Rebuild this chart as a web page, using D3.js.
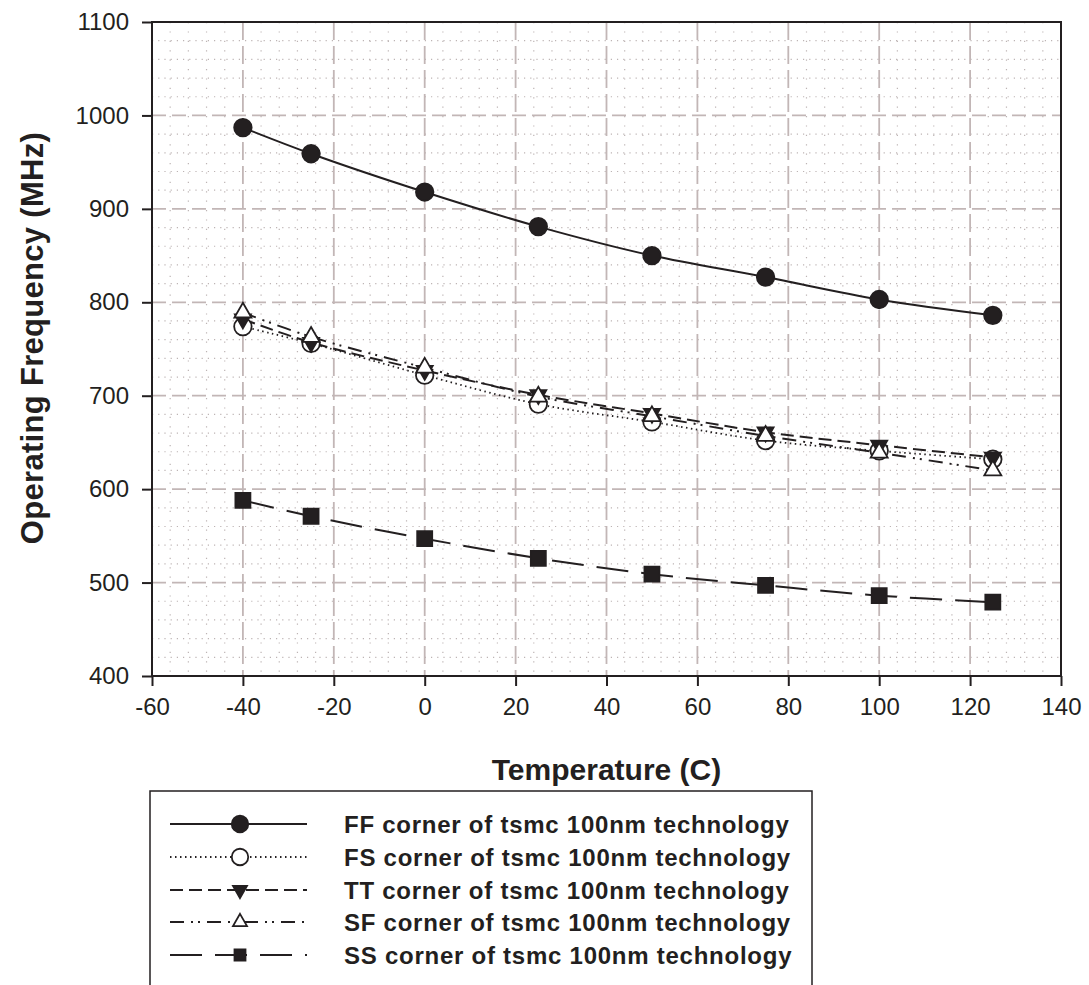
<!DOCTYPE html>
<html>
<head>
<meta charset="utf-8">
<script src="https://cdn.jsdelivr.net/npm/d3@7"></script>
<style>
  body { margin: 0; background: #fff; }
  text { font-family: "Liberation Sans", Arial, sans-serif; fill: #231f20; }
</style>
</head>
<body>
<div id="chart"></div>
<script>
// temperatures (C)
var temps = [-40, -25, 0, 25, 50, 75, 100, 125];
// operating frequency (MHz) per corner
var ffVals = [987, 959, 918, 881, 850, 827, 803, 786];
var fsVals = [774, 756, 722, 691, 672, 652, 641, 632];
var ttVals = [782, 757, 727, 701, 681, 661, 647, 634];
var sfVals = [789, 763, 730, 699, 678, 657, 639, 620];
var ssVals = [588, 571, 547, 526, 509, 497, 486, 479];

var seriesNames = [
  "FF corner of tsmc 100nm technology",
  "FS corner of tsmc 100nm technology",
  "TT corner of tsmc 100nm technology",
  "SF corner of tsmc 100nm technology",
  "SS corner of tsmc 100nm technology"
];
var xTicks = [-60, -40, -20, 0, 20, 40, 60, 80, 100, 120, 140];
var yTicks = [400, 500, 600, 700, 800, 900, 1000, 1100];

var W = 1089, H = 985;
var L = 152, R = 1061, T = 22, B = 676;

var svg = d3.select("#chart").append("svg")
  .attr("width", W).attr("height", H);

var x = d3.scaleLinear().domain([-60, 140]).range([L, R]);
var y = d3.scaleLinear().domain([400, 1100]).range([B, T]);

// minor grid (dotted)
var minorX = d3.range(-60, 140.1, 4).filter(function(v){ return v % 20 != 0; });
var minorY = d3.range(400, 1100.1, 20).filter(function(v){ return v % 100 != 0; });
svg.append("g").selectAll("line").data(minorX).enter().append("line")
  .attr("x1", function(d){ return x(d); }).attr("x2", function(d){ return x(d); })
  .attr("y1", T).attr("y2", B)
  .style("stroke", "#bdb4b4").style("stroke-width", 1.2)
  .style("stroke-dasharray", "1.2,8.2");
svg.append("g").selectAll("line").data(minorY).enter().append("line")
  .attr("x1", L).attr("x2", R)
  .attr("y1", function(d){ return y(d); }).attr("y2", function(d){ return y(d); })
  .style("stroke", "#bdb4b4").style("stroke-width", 1.2)
  .style("stroke-dasharray", "1.2,5");

// major grid (dashed)
svg.append("g").selectAll("line").data(xTicks.slice(1, -1)).enter().append("line")
  .attr("x1", function(d){ return x(d); }).attr("x2", function(d){ return x(d); })
  .attr("y1", T).attr("y2", B)
  .style("stroke", "#c2b6b6").style("stroke-width", 1.8)
  .style("stroke-dasharray", "18,6");
svg.append("g").selectAll("line").data(yTicks.slice(1, -1)).enter().append("line")
  .attr("x1", L).attr("x2", R)
  .attr("y1", function(d){ return y(d); }).attr("y2", function(d){ return y(d); })
  .style("stroke", "#c2b6b6").style("stroke-width", 1.8)
  .style("stroke-dasharray", "14,6");

// frame
svg.append("rect")
  .attr("x", L).attr("y", T).attr("width", R - L).attr("height", B - T)
  .style("fill", "none").style("stroke", "#231f20").style("stroke-width", 2);

// axes
var plain = function(d){ return String(d); };
var xAxis = svg.append("g").attr("transform", "translate(0," + B + ")")
  .call(d3.axisBottom(x).tickValues(xTicks).tickSize(10).tickPadding(12).tickFormat(plain));
var yAxis = svg.append("g").attr("transform", "translate(" + L + ",0)")
  .call(d3.axisLeft(y).tickValues(yTicks).tickSize(10).tickPadding(13).tickFormat(plain));
[xAxis, yAxis].forEach(function(a){
  a.select(".domain").remove();
  a.selectAll("line").style("stroke", "#231f20").style("stroke-width", 2);
  a.selectAll("text").style("font-size", "24px").style("font-family", "Liberation Sans, Arial, sans-serif").style("fill", "#231f20");
});

// axis titles
svg.append("text")
  .attr("x", (L + R) / 2).attr("y", 780)
  .attr("text-anchor", "middle")
  .style("font-size", "30px").style("font-weight", "bold")
  .text("Temperature (C)");
svg.append("text")
  .attr("transform", "translate(43,338) rotate(-90)")
  .attr("text-anchor", "middle")
  .style("font-size", "31px").style("font-weight", "bold")
  .style("letter-spacing", "0.3px")
  .text("Operating Frequency (MHz)");

// series
var styles = [
  { vals: ffVals, dash: null, width: 2, marker: "circle", fill: "#231f20" },
  { vals: fsVals, dash: "1.5,3.5", width: 1.8, marker: "circle", fill: "#fff" },
  { vals: ttVals, dash: "13,6", width: 2, marker: "down", fill: "#231f20" },
  { vals: sfVals, dash: "14,7,2,5,2,7", width: 2, marker: "up", fill: "#fff" },
  { vals: ssVals, dash: "32,13", width: 2, marker: "square", fill: "#231f20" }
];

var line = d3.line()
  .x(function(d){ return x(d[0]); })
  .y(function(d){ return y(d[1]); })
  .curve(d3.curveCatmullRom.alpha(0.5));

function markerPath(type, s){
  if(type == "circle") return d3.symbol(d3.symbolCircle, s * s * Math.PI / 4)();
  if(type == "square") return d3.symbol(d3.symbolSquare, s * s)();
  var h = s * 0.87;
  if(type == "up") return "M0," + (-h * 2 / 3) + "L" + (s / 2) + "," + (h / 3) + "L" + (-s / 2) + "," + (h / 3) + "Z";
  return "M0," + (h * 2 / 3) + "L" + (s / 2) + "," + (-h / 3) + "L" + (-s / 2) + "," + (-h / 3) + "Z";
}
var markerSize = { circle: 17.5, square: 15, up: 17, down: 16 };

styles.forEach(function(st){
  var pts = temps.map(function(t, i){ return [t, st.vals[i]]; });
  svg.append("path")
    .datum(pts)
    .attr("d", line)
    .style("fill", "none").style("stroke", "#231f20")
    .style("stroke-width", st.width)
    .style("stroke-dasharray", st.dash);
});
styles.forEach(function(st){
  var pts = temps.map(function(t, i){ return [t, st.vals[i]]; });
  svg.append("g").selectAll("path").data(pts).enter().append("path")
    .attr("transform", function(d){ return "translate(" + x(d[0]) + "," + y(d[1]) + ")"; })
    .attr("d", markerPath(st.marker, markerSize[st.marker]))
    .style("fill", st.fill).style("stroke", "#231f20").style("stroke-width", 1.8);
});

// legend
var legX = 150, legY = 791;
svg.append("rect")
  .attr("x", legX).attr("y", legY).attr("width", 662).attr("height", 260)
  .style("fill", "#fff").style("stroke", "#231f20").style("stroke-width", 1.5);

var legRows = [824, 857, 890, 922, 955];
var legMarkerSize = { circle: 16.5, square: 11, up: 14, down: 14 };
styles.forEach(function(st, i){
  var g = svg.append("g").attr("transform", "translate(0," + legRows[i] + ")");
  g.append("line")
    .attr("x1", 170).attr("x2", 307).attr("y1", 0).attr("y2", 0)
    .style("stroke", "#231f20").style("stroke-width", st.width)
    .style("stroke-dasharray", st.dash);
  g.append("path")
    .attr("transform", "translate(240,0)")
    .attr("d", markerPath(st.marker, legMarkerSize[st.marker]))
    .style("fill", st.fill).style("stroke", "#231f20").style("stroke-width", 1.8);
  g.append("text")
    .attr("x", 344).attr("y", 8.5)
    .style("font-size", "24px").style("font-weight", "bold")
    .style("letter-spacing", "0.75px")
    .text(seriesNames[i]);
});
</script>
</body>
</html>
